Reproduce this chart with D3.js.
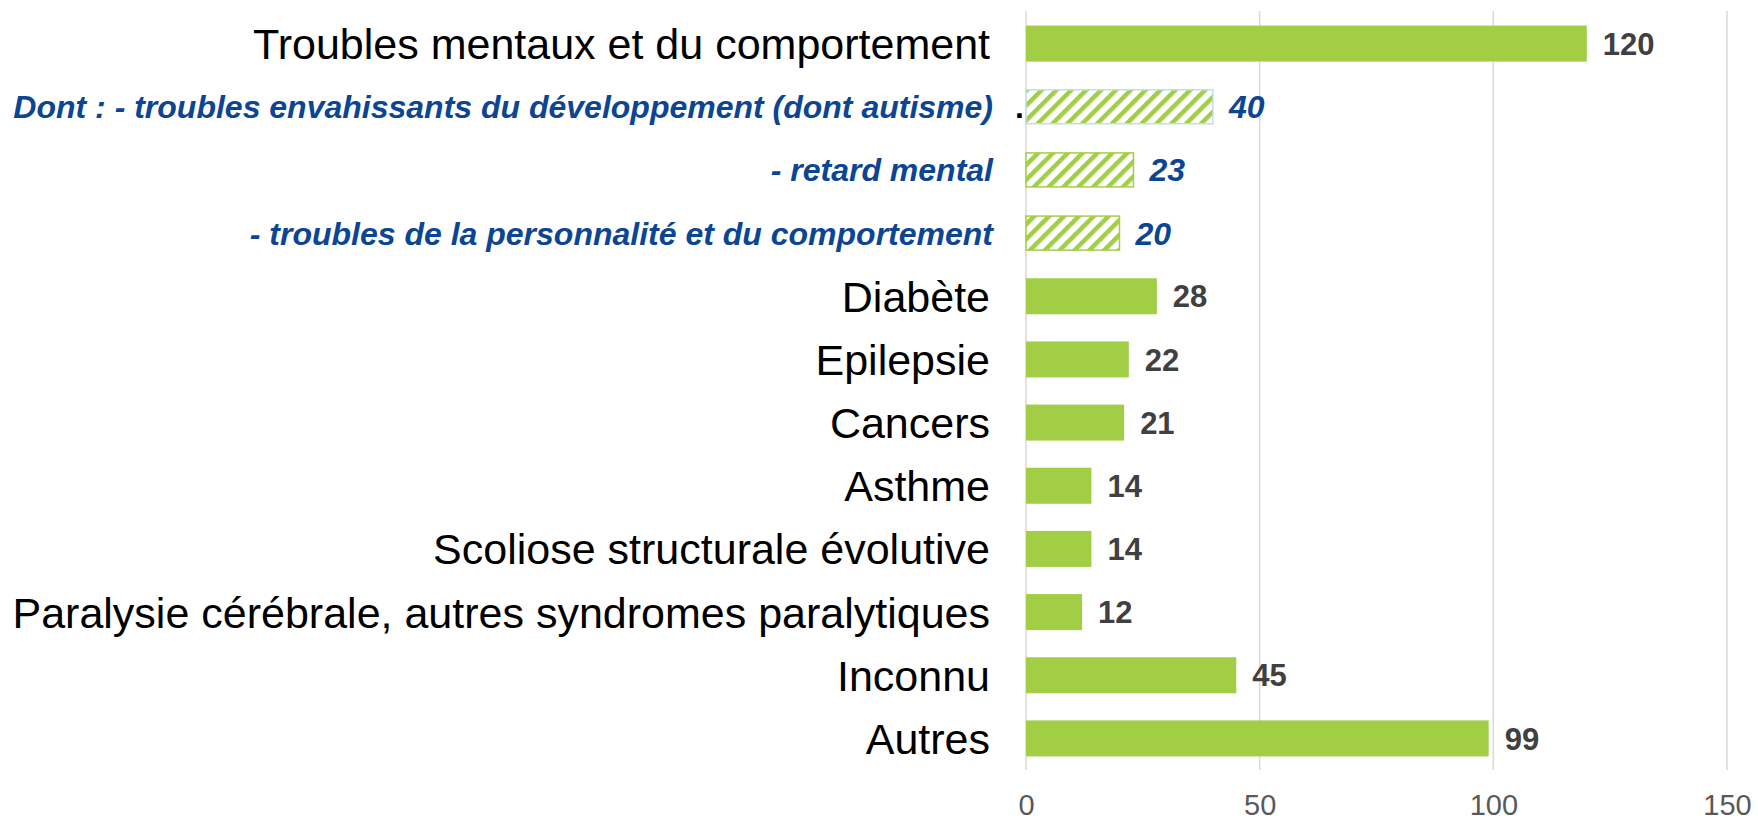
<!DOCTYPE html>
<html>
<head>
<meta charset="utf-8">
<script src="https://cdn.jsdelivr.net/npm/d3@7"></script>
<style>
  body { margin: 0; background: #fff; }
  svg { display: block; font-family: "Liberation Sans", Arial, sans-serif; }
</style>
</head>
<body>
<div id="chart"></div>
<script>
// chart values
var categories = [
    "Troubles mentaux et du comportement",
    "Dont : - troubles envahissants du développement (dont autisme)",
    "- retard mental",
    "- troubles de la personnalité et du comportement",
    "Diabète",
    "Epilepsie",
    "Cancers",
    "Asthme",
    "Scoliose structurale évolutive",
    "Paralysie cérébrale, autres syndromes paralytiques",
    "Inconnu",
    "Autres"
];
var values = [120, 40, 23, 20, 28, 22, 21, 14, 14, 12, 45, 99];
var subItem = [false, true, true, true, false, false, false, false, false, false, false, false];
var xTicks = [0, 50, 100, 150];

var width = 1758, height = 820;

var svg = d3.select("#chart").append("svg")
    .attr("width", width)
    .attr("height", height);

// hatch pattern for the "dont" sub rows
var defs = svg.append("defs");
var pat = defs.append("pattern")
    .attr("id", "hatch")
    .attr("patternUnits", "userSpaceOnUse")
    .attr("width", 10.5).attr("height", 10.5)
    .attr("patternTransform", "rotate(45)");
pat.append("rect")
    .attr("width", 10.5).attr("height", 10.5)
    .attr("fill", "#fff");
pat.append("rect")
    .attr("x", 0).attr("y", 0)
    .attr("width", 4.5).attr("height", 10.5)
    .attr("fill", "#a2ce46");

var x = d3.scaleLinear()
    .domain([0, 150])
    .range([1026, 1727]);

var y = d3.scaleBand()
    .domain(d3.range(categories.length))
    .range([12, 770])
    .paddingInner(0.43)
    .paddingOuter(0.215);

// gridlines
svg.append("g")
    .selectAll("line")
    .data(xTicks)
    .enter().append("line")
    .attr("x1", function(d) { return x(d); })
    .attr("x2", function(d) { return x(d); })
    .attr("y1", 11).attr("y2", 770)
    .attr("stroke", "#d9d9d9")
    .attr("stroke-width", 1.5);

// x axis tick labels
var xAxis = svg.append("g")
    .attr("transform", "translate(0,788)")
    .call(d3.axisBottom(x).tickValues(xTicks).tickSize(0).tickPadding(0));
xAxis.select(".domain").remove();
xAxis.selectAll("text")
    .attr("dy", null)
    .attr("y", 27)
    .attr("fill", "#595959")
    .style("font-size", "29px")
    .style("font-family", "'Liberation Sans', Arial, sans-serif");

// bars
svg.append("g")
    .selectAll("rect")
    .data(values)
    .enter().append("rect")
    .attr("x", x(0))
    .attr("y", function(d, i) { return subItem[i] ? y(i) + 1 : y(i); })
    .attr("width", function(d) { return x(d) - x(0); })
    .attr("height", function(d, i) { return subItem[i] ? y.bandwidth() - 2 : y.bandwidth(); })
    .attr("fill", function(d, i) { return subItem[i] ? "url(#hatch)" : "#a2ce46"; })
    .attr("stroke", function(d, i) {
        if (!subItem[i]) return "none";
        return i === 1 ? "#bfe0e6" : "#a2ce46";
    })
    .attr("stroke-width", 1.5);

// value labels
svg.append("g")
    .selectAll("text")
    .data(values)
    .enter().append("text")
    .attr("x", function(d) { return x(d) + 16; })
    .attr("y", function(d, i) { return y(i) + y.bandwidth() / 2; })
    .attr("dy", "0.36em")
    .attr("fill", function(d, i) { return subItem[i] ? "#0b4593" : "#404040"; })
    .style("font-weight", "bold")
    .style("font-style", function(d, i) { return subItem[i] ? "italic" : "normal"; })
    .style("font-size", function(d, i) { return subItem[i] ? "32px" : "31px"; })
    .text(function(d) { return d; });

// category labels
svg.append("g")
    .selectAll("text")
    .data(categories)
    .enter().append("text")
    .attr("x", function(d, i) { return subItem[i] ? 993 : 990; })
    .attr("y", function(d, i) { return y(i) + y.bandwidth() / 2; })
    .attr("dy", "0.36em")
    .attr("text-anchor", "end")
    .attr("fill", function(d, i) { return subItem[i] ? "#0b4593" : "#000"; })
    .style("font-weight", function(d, i) { return subItem[i] ? "bold" : "normal"; })
    .style("font-style", function(d, i) { return subItem[i] ? "italic" : "normal"; })
    .style("font-size", function(d, i) { return subItem[i] ? "32px" : "43px"; })
    .text(function(d) { return d; });

// stray dot next to the first sub row, as in the source
svg.append("text")
    .attr("x", 1024)
    .attr("y", y(1) + y.bandwidth() / 2)
    .attr("dy", "0.36em")
    .attr("text-anchor", "end")
    .style("font-size", "32px")
    .style("font-weight", "bold")
    .text(".");
</script>
</body>
</html>
